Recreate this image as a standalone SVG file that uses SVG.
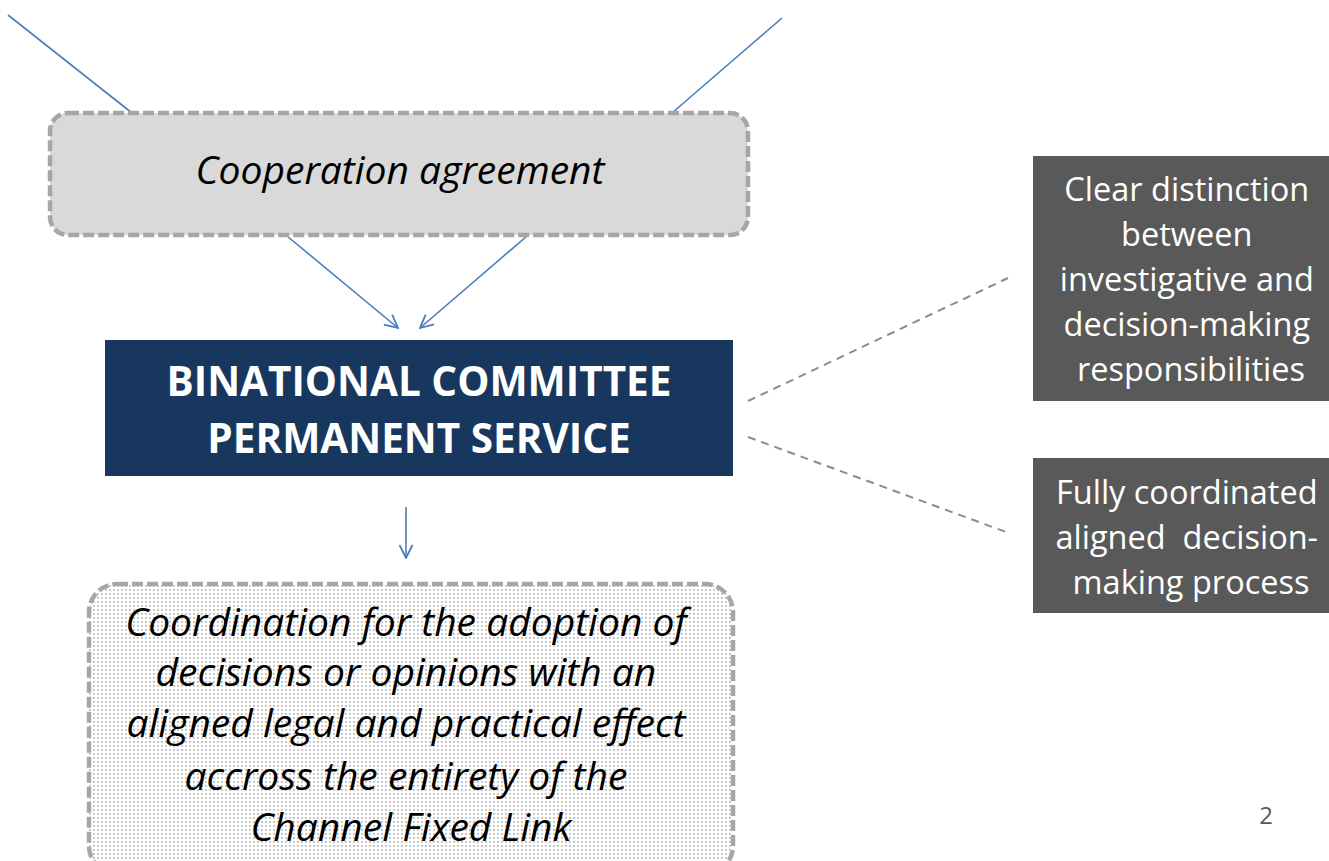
<svg xmlns="http://www.w3.org/2000/svg" width="1329" height="861" viewBox="0 0 1329 861">
<style>
.blue{stroke:#4a7ebb;stroke-width:1.6;fill:none}
.gdash{stroke:#8c8c8c;stroke-width:2;stroke-dasharray:8,6;fill:none}
.box{stroke:#a6a6a6;stroke-width:4.5;stroke-dasharray:11,4}
.it{font-family:"Open Sans",sans-serif;font-style:italic;fill:#000;text-anchor:middle}
.wt{font-family:"Open Sans",sans-serif;fill:#fff;text-anchor:middle}
.bold{font-family:"Open Sans",sans-serif;font-weight:bold;fill:#fff;text-anchor:middle}
</style>
<defs>
<marker id="ah" viewBox="0 0 16 16" refX="15" refY="8" markerWidth="16" markerHeight="16" markerUnits="userSpaceOnUse" orient="auto">
<path d="M2,1.5 L15,8 L2,14.5" fill="none" stroke="#4a7ebb" stroke-width="1.8"/>
</marker>
<pattern id="dots" width="4" height="4" patternUnits="userSpaceOnUse">
<rect width="4" height="4" fill="#ffffff"/>
<rect x="1" y="1" width="1.8" height="1.8" fill="#bdbdbd"/>
</pattern>
</defs>
<rect width="1329" height="861" fill="#fff"/>
<g id="connectors">
<line class="blue" x1="8" y1="15" x2="132" y2="113"/>
<line class="blue" x1="782" y1="18" x2="672" y2="113"/>
<line class="blue" x1="287" y1="236" x2="398" y2="328" marker-end="url(#ah)"/>
<line class="blue" x1="527" y1="236" x2="420" y2="328" marker-end="url(#ah)"/>
<line class="blue" x1="406" y1="507" x2="406" y2="558" marker-end="url(#ah)"/>
<line class="gdash" x1="748" y1="401" x2="1008" y2="278"/>
<line class="gdash" x1="748" y1="437" x2="1006" y2="532"/>
</g>
<g id="cooperation">
<rect class="box" x="50" y="113" width="698" height="122" rx="18" fill="#d9d9d9"/>
<text class="it" x="400" y="184" font-size="39">Cooperation agreement</text>
</g>
<g id="committee">
<rect x="105" y="340" width="628" height="136" fill="#17375e"/>
<text class="bold" x="419" y="396" font-size="40.5">BINATIONAL COMMITTEE</text>
<text class="bold" x="419" y="453" font-size="40.5">PERMANENT SERVICE</text>
</g>
<g id="coordination">
<rect class="box" x="89" y="584" width="644" height="290" rx="28" fill="url(#dots)"/>
<text class="it" font-size="39">
<tspan x="411" y="636">Coordination for the adoption of</tspan>
<tspan x="411" y="686">decisions or opinions with an</tspan>
<tspan x="411" y="737">aligned legal and practical effect</tspan>
<tspan x="411" y="790">accross the entirety of the</tspan>
<tspan x="411" y="841">Channel Fixed Link</tspan>
</text>
</g>
<g id="distinction">
<rect x="1033" y="156" width="296" height="245" fill="#595959"/>
<text class="wt" font-size="32.5">
<tspan x="1191" y="201">Clear distinction</tspan>
<tspan x="1191" y="246">between</tspan>
<tspan x="1191" y="291">investigative and</tspan>
<tspan x="1191" y="336">decision-making</tspan>
<tspan x="1191" y="381">responsibilities</tspan>
</text>
</g>
<g id="coordinated">
<rect x="1033" y="458" width="296" height="155" fill="#595959"/>
<text class="wt" font-size="32.5">
<tspan x="1191" y="504">Fully coordinated</tspan>
<tspan x="1191" y="549" xml:space="preserve">aligned  decision-</tspan>
<tspan x="1191" y="594">making process</tspan>
</text>
</g>
<text x="1266" y="824" font-family="Open Sans,sans-serif" font-size="24" fill="#595959" text-anchor="middle">2</text>
</svg>
